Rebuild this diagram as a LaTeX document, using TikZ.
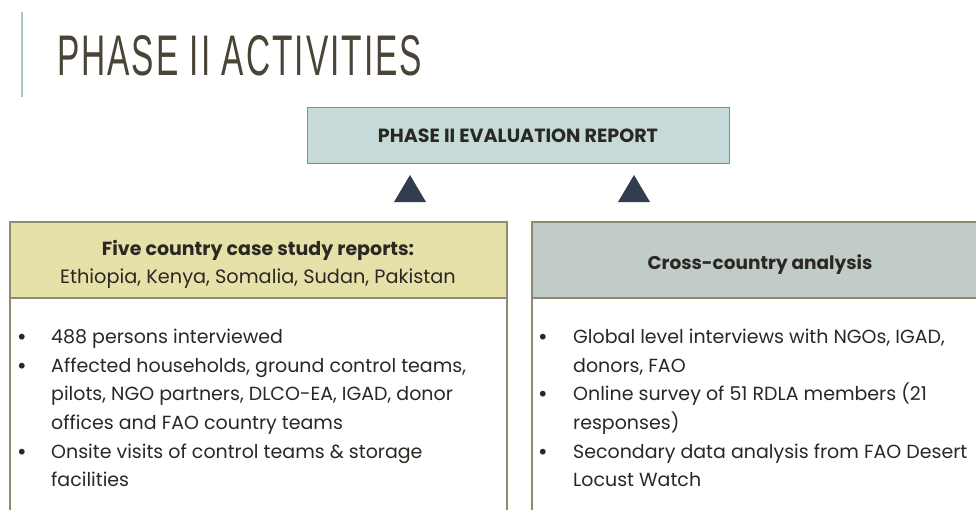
\documentclass[tikz,border=0pt]{standalone}
\usepackage{fontspec}
\setmainfont{Poppins}
\newfontfamily\titlefont[LetterSpace=6]{Liberation Sans}
\definecolor{titlec}{HTML}{4A4436}
\definecolor{vline}{HTML}{A8C6C9}
\definecolor{reportfill}{HTML}{C6DADA}
\definecolor{leftfill}{HTML}{E6E0A9}
\definecolor{rightfill}{HTML}{C1CBC7}
\definecolor{boxline}{HTML}{8E8B6E}
\definecolor{tri}{HTML}{323E50}
\definecolor{txt}{HTML}{2A2822}
\tikzset{
  panel/.style={draw=boxline, line width=1.2pt},
  bodytext/.style={anchor=base west, inner sep=0pt, font=\fontsize{19}{22}\selectfont, text=txt},
  headtext/.style={anchor=base, inner sep=0pt, font=\fontsize{19}{22}\selectfont, text=txt},
  bul/.style={anchor=base, inner sep=0pt, font=\fontsize{19}{22}\selectfont\bfseries, text=txt},
  arrowtri/.style={fill=tri, draw=none},
}
\begin{document}
\begin{tikzpicture}[x=1pt,y=-1pt]
\useasboundingbox (0,0) rectangle (976,509);
\fill[white] (0,0) rectangle (976,509);
% vertical accent line
\draw[vline, line width=1.5pt] (22,12) -- (22,97);
% title
\node[anchor=base west, inner sep=0pt, text=titlec] (title) at (57,75)
  {\resizebox{365pt}{40pt}{\titlefont PHASE II ACTIVITIES}};
% report box
\node[panel, fill=reportfill, minimum width=422pt, minimum height=56pt, anchor=north west, inner sep=0pt] (report) at (307,107) {};
\node[anchor=base, inner sep=0pt, text=txt] (reporttxt) at (518,142)
  {\resizebox{280pt}{!}{\bfseries PHASE II EVALUATION REPORT}};
% triangles
\fill[arrowtri] (394,202) -- (426,202) -- (410,175) -- cycle;
\fill[arrowtri] (618,202) -- (650,202) -- (634,175) -- cycle;
% left panel
\filldraw[panel, fill=leftfill] (10,222) rectangle (507,298);
\draw[panel] (10,298) -- (10,512) (507,298) -- (507,512);
% right panel
\filldraw[panel, fill=rightfill] (532,222) rectangle (990,298);
\draw[panel] (532,298) -- (532,512);
% left header
\node[headtext, font=\fontsize{19}{22}\selectfont\bfseries] (lh1) at (258,255) {Five country case study reports:};
\node[headtext, font=\fontsize{19.3}{22}\selectfont] (lh2) at (258,283) {Ethiopia, Kenya, Somalia, Sudan, Pakistan};
% right header
\node[headtext, font=\fontsize{18.5}{22}\selectfont\bfseries] (rh1) at (760,269) {Cross-country analysis};
% left bullets
\node[bul] (lb1) at (22,343) {•};
\node[bodytext] (l1) at (51,343) {488 persons interviewed};
\node[bul] (lb2) at (22,372) {•};
\node[bodytext] (l2) at (51,372) {Affected households, ground control teams,};
\node[bodytext] (l3) at (51,400) {pilots, NGO partners, DLCO-EA, IGAD, donor};
\node[bodytext] (l4) at (51,429) {offices and FAO country teams};
\node[bul] (lb3) at (22,458) {•};
\node[bodytext] (l5) at (51,458) {Onsite visits of control teams \& storage};
\node[bodytext] (l6) at (51,486) {facilities};
% right bullets
\node[bul] (rb1) at (543,343) {•};
\node[bodytext] (r1) at (573,343) {Global level interviews with NGOs, IGAD,};
\node[bodytext] (r2) at (573,372) {donors, FAO};
\node[bul] (rb2) at (543,400) {•};
\node[bodytext] (r3) at (573,400) {Online survey of 51 RDLA members (21};
\node[bodytext] (r4) at (573,429) {responses)};
\node[bul] (rb3) at (543,458) {•};
\node[bodytext] (r5) at (573,458) {Secondary data analysis from FAO Desert};
\node[bodytext] (r6) at (573,486) {Locust Watch};
\end{tikzpicture}
\end{document}
